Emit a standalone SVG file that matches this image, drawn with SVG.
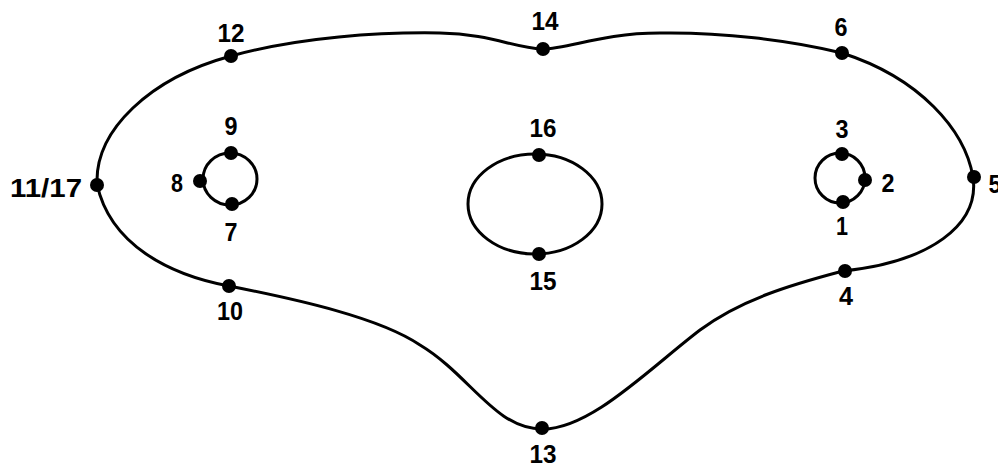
<svg xmlns="http://www.w3.org/2000/svg" width="998" height="469" viewBox="0 0 998 469">
<style>
.edge{fill:none;stroke:#000;stroke-width:3;stroke-linejoin:round}
.dot{fill:#000}
.lbl{font-family:"Liberation Sans",Arial,sans-serif;font-weight:bold;font-size:26px;fill:#000;text-anchor:middle}
</style>
<rect width="998" height="469" fill="#fff"/>
<g id="connectors">
<path class="edge" d="M97,184 C95,130 150,78 231,56 C300,37 380,32 440,33 C490,34 515,48 542,49 C570,49 600,33 660,33 C720,32 790,40 842,53 C920,78 965,130 973,177 C980,225 930,262 843,271 C790,285 740,300 700,330 C650,368 590,430 542,429 C495,429 470,375 420,345 C380,318 300,300 229,286 C170,275 110,245 97,184 Z"/>
<ellipse class="edge" cx="230" cy="179" rx="27" ry="26"/>
<ellipse class="edge" cx="535" cy="204" rx="67" ry="50"/>
<ellipse class="edge" cx="840" cy="178" rx="25" ry="25"/>
</g>
<g id="n1"><circle class="dot" cx="843" cy="202" r="7"/><text class="lbl" x="842" y="235" textLength="12" lengthAdjust="spacingAndGlyphs">1</text></g>
<g id="n2"><circle class="dot" cx="865" cy="180" r="7"/><text class="lbl" x="888" y="192" textLength="13" lengthAdjust="spacingAndGlyphs">2</text></g>
<g id="n3"><circle class="dot" cx="842" cy="154" r="7"/><text class="lbl" x="842" y="138" textLength="13" lengthAdjust="spacingAndGlyphs">3</text></g>
<g id="n4"><circle class="dot" cx="845" cy="271" r="7"/><text class="lbl" x="846" y="305" textLength="14" lengthAdjust="spacingAndGlyphs">4</text></g>
<g id="n5"><circle class="dot" cx="974" cy="177" r="7"/><text class="lbl" x="995" y="193" textLength="13" lengthAdjust="spacingAndGlyphs">5</text></g>
<g id="n6"><circle class="dot" cx="842" cy="53" r="7"/><text class="lbl" x="841" y="36" textLength="13" lengthAdjust="spacingAndGlyphs">6</text></g>
<g id="n7"><circle class="dot" cx="232" cy="204" r="7"/><text class="lbl" x="231" y="241" textLength="13" lengthAdjust="spacingAndGlyphs">7</text></g>
<g id="n8"><circle class="dot" cx="200" cy="181" r="7"/><text class="lbl" x="177" y="192" textLength="12" lengthAdjust="spacingAndGlyphs">8</text></g>
<g id="n9"><circle class="dot" cx="231" cy="153" r="7"/><text class="lbl" x="231" y="135" textLength="13" lengthAdjust="spacingAndGlyphs">9</text></g>
<g id="n10"><circle class="dot" cx="229" cy="286" r="7"/><text class="lbl" x="230" y="320" textLength="26" lengthAdjust="spacingAndGlyphs">10</text></g>
<g id="n11_17"><circle class="dot" cx="97" cy="185" r="7"/><text class="lbl" x="46" y="197" textLength="72" lengthAdjust="spacingAndGlyphs">11/17</text></g>
<g id="n12"><circle class="dot" cx="231" cy="56" r="7"/><text class="lbl" x="231" y="42" textLength="27" lengthAdjust="spacingAndGlyphs">12</text></g>
<g id="n13"><circle class="dot" cx="542" cy="428" r="7"/><text class="lbl" x="543" y="463" textLength="27" lengthAdjust="spacingAndGlyphs">13</text></g>
<g id="n14"><circle class="dot" cx="543" cy="49" r="7"/><text class="lbl" x="545" y="30" textLength="27" lengthAdjust="spacingAndGlyphs">14</text></g>
<g id="n15"><circle class="dot" cx="539" cy="254" r="7"/><text class="lbl" x="543" y="290" textLength="27" lengthAdjust="spacingAndGlyphs">15</text></g>
<g id="n16"><circle class="dot" cx="539" cy="155" r="7"/><text class="lbl" x="543" y="137" textLength="27" lengthAdjust="spacingAndGlyphs">16</text></g>
</svg>
